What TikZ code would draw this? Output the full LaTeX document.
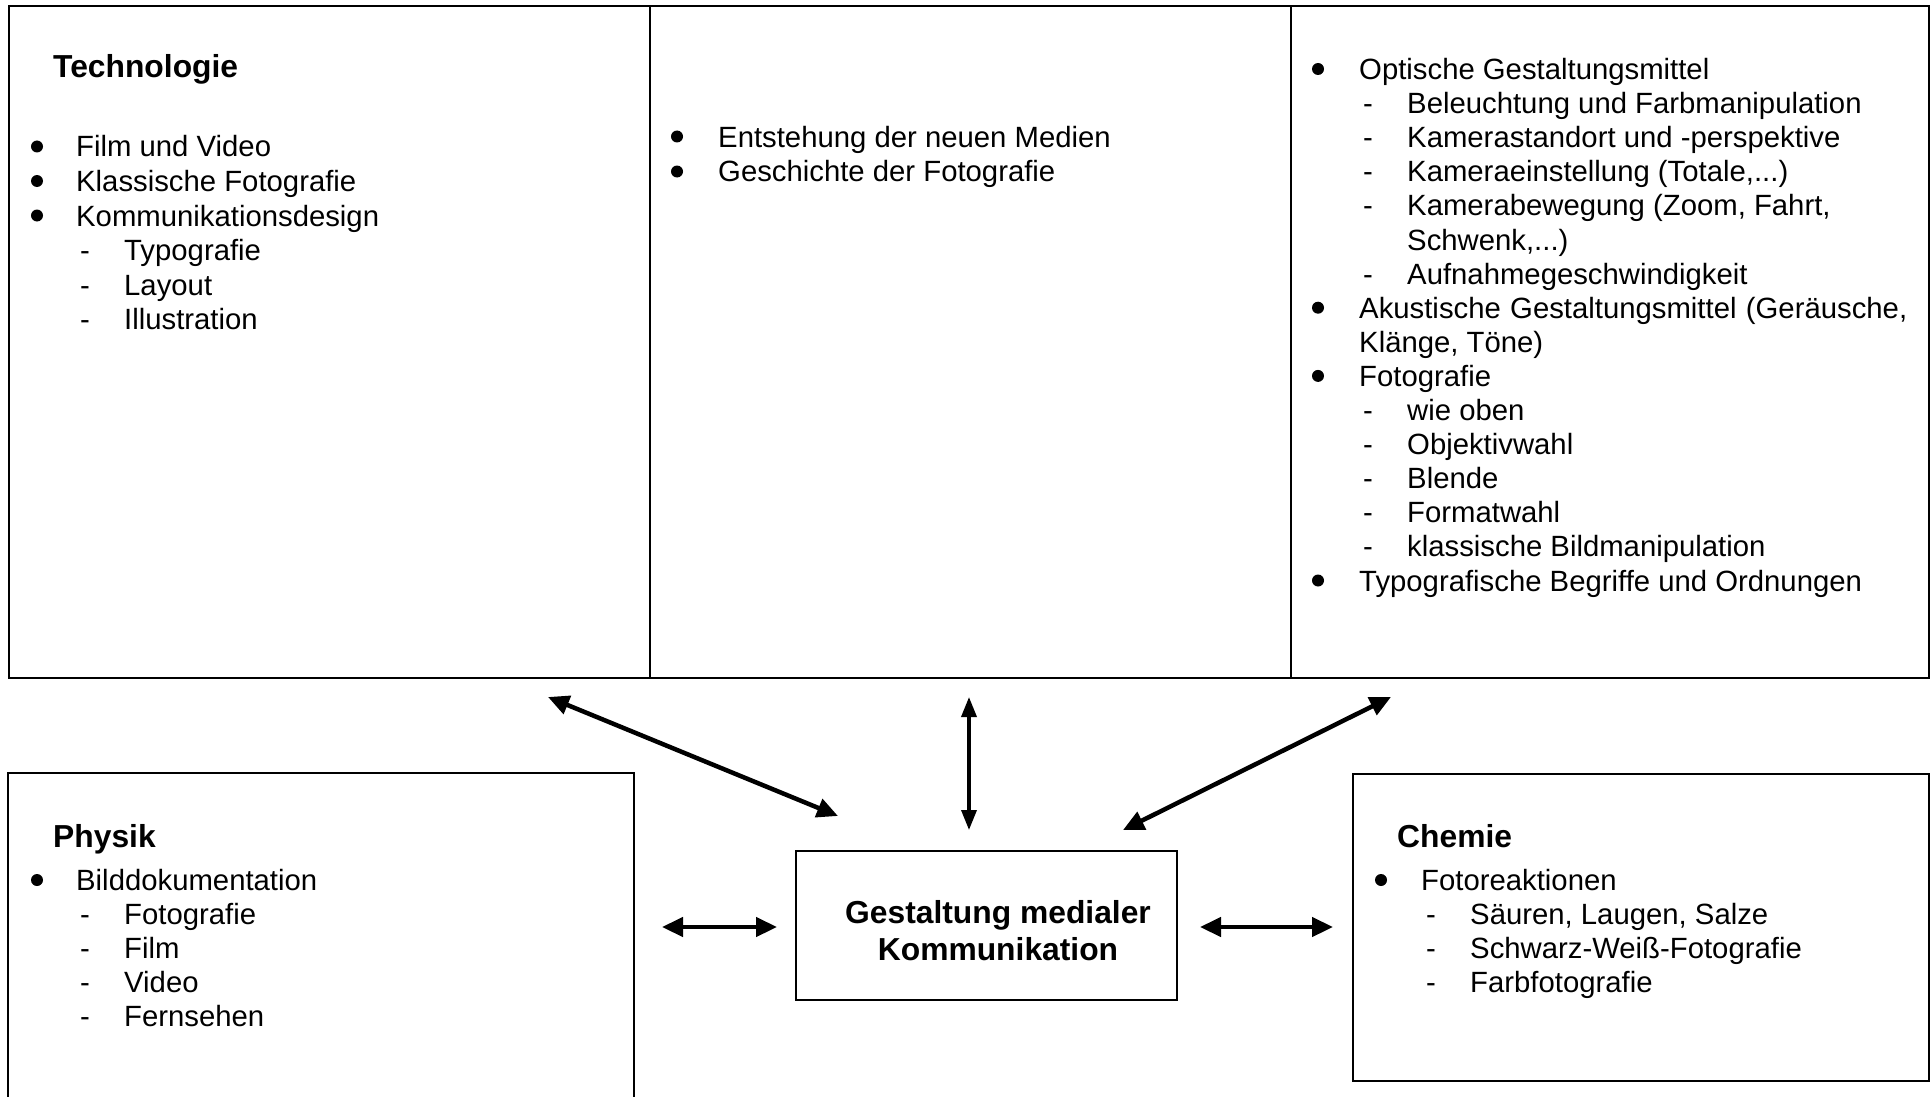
\documentclass[tikz,border=0pt]{standalone}
\usepackage{fontspec}
\setmainfont{Liberation Sans}
\usetikzlibrary{arrows.meta}
\tikzset{
  txt/.style={anchor=base west, inner sep=0pt, font=\fontsize{29.3}{34}\selectfont},
  ttl/.style={anchor=base west, inner sep=0pt, font=\bfseries\fontsize{31.8}{38}\selectfont},
  bul/.style={circle, fill=black, inner sep=0pt, minimum size=12pt, yshift=10.5pt},
  frame/.style={draw, line width=2pt},
  arr/.style={line width=4.5pt, {Triangle[length=21pt,width=19pt]}-{Triangle[length=21pt,width=19pt]}},
  varr/.style={line width=3.5pt, {Triangle[length=20pt,width=15pt]}-{Triangle[length=20pt,width=15pt]}}
}
\begin{document}
\begin{tikzpicture}[x=1pt,y=-1pt]
\useasboundingbox (0,0) rectangle (1930,1097);
% top table
\node[frame, anchor=north west, minimum width=641pt, minimum height=672pt, inner sep=0pt] (tech) at (8,5) {};
\node[frame, anchor=north west, minimum width=641pt, minimum height=672pt, inner sep=0pt] (hist) at (649,5) {};
\node[frame, anchor=north west, minimum width=638pt, minimum height=672pt, inner sep=0pt] (gest) at (1290,5) {};
% bottom boxes
\coordinate (phA) at (8,1100);
\coordinate (phB) at (8,773);
\coordinate (phC) at (634,773);
\coordinate (phD) at (634,1100);
\draw[line width=2pt] (phA) -- (phB) -- (phC) -- (phD);
\node[frame, anchor=north west, minimum width=576pt, minimum height=307pt, inner sep=0pt] (chem) at (1352,773) {};
\node[frame, anchor=north west, minimum width=381pt, minimum height=149pt, inner sep=0pt] (center) at (795,850) {};

% Technologie
\node[ttl] (t0) at (53,78) {Technologie};
\node[bul] (tb1) at (37,157) {};
\node[txt] (t1) at (76,157) {Film und Video};
\node[bul] (tb2) at (37,191.5) {};
\node[txt] (t2) at (76,191.5) {Klassische Fotografie};
\node[bul] (tb3) at (37,226) {};
\node[txt] (t3) at (76,226) {Kommunikationsdesign};
\node[txt] (td4) at (80,260.5) {-};
\node[txt] (t4) at (124,260.5) {Typografie};
\node[txt] (td5) at (80,295) {-};
\node[txt] (t5) at (124,295) {Layout};
\node[txt] (td6) at (80,329) {-};
\node[txt] (t6) at (124,329) {Illustration};

% middle column
\node[bul] (hb1) at (677,147) {};
\node[txt] (h1) at (718,147) {Entstehung der neuen Medien};
\node[bul] (hb2) at (677,182) {};
\node[txt] (h2) at (718,182) {Geschichte der Fotografie};

% right column
\node[bul] (gb1) at (1318,79.5) {};
\node[txt] (g1) at (1359,79.5) {Optische Gestaltungsmittel};
\node[txt] (gd2) at (1363,113.6) {-};
\node[txt] (g2) at (1407,113.6) {Beleuchtung und Farbmanipulation};
\node[txt] (gd3) at (1363,147.7) {-};
\node[txt] (g3) at (1407,147.7) {Kamerastandort und -perspektive};
\node[txt] (gd4) at (1363,181.8) {-};
\node[txt] (g4) at (1407,181.8) {Kameraeinstellung (Totale,...)};
\node[txt] (gd5) at (1363,215.9) {-};
\node[txt] (g5) at (1407,215.9) {Kamerabewegung (Zoom, Fahrt,};
\node[txt] (g6) at (1407,250) {Schwenk,...)};
\node[txt] (gd7) at (1363,284.1) {-};
\node[txt] (g7) at (1407,284.1) {Aufnahmegeschwindigkeit};
\node[bul] (gb8) at (1318,318.2) {};
\node[txt] (g8) at (1359,318.2) {\makebox[548pt][s]{Akustische Gestaltungsmittel (Geräusche,}};
\node[txt] (g9) at (1359,352.3) {Klänge, Töne)};
\node[bul] (gb10) at (1318,386.4) {};
\node[txt] (g10) at (1359,386.4) {Fotografie};
\node[txt] (gd11) at (1363,420.5) {-};
\node[txt] (g11) at (1407,420.5) {wie oben};
\node[txt] (gd12) at (1363,454.6) {-};
\node[txt] (g12) at (1407,454.6) {Objektivwahl};
\node[txt] (gd13) at (1363,488.7) {-};
\node[txt] (g13) at (1407,488.7) {Blende};
\node[txt] (gd14) at (1363,522.8) {-};
\node[txt] (g14) at (1407,522.8) {Formatwahl};
\node[txt] (gd15) at (1363,556.9) {-};
\node[txt] (g15) at (1407,556.9) {klassische Bildmanipulation};
\node[bul] (gb16) at (1318,591) {};
\node[txt] (g16) at (1359,591) {Typografische Begriffe und Ordnungen};

% Physik
\node[ttl] (p0) at (53,847) {Physik};
\node[bul] (pb1) at (37,890.5) {};
\node[txt] (p1) at (76,890.5) {Bilddokumentation};
\node[txt] (pd2) at (80,924.5) {-};
\node[txt] (p2) at (124,924.5) {Fotografie};
\node[txt] (pd3) at (80,958.5) {-};
\node[txt] (p3) at (124,958.5) {Film};
\node[txt] (pd4) at (80,992.5) {-};
\node[txt] (p4) at (124,992.5) {Video};
\node[txt] (pd5) at (80,1026.5) {-};
\node[txt] (p5) at (124,1026.5) {Fernsehen};

% Chemie
\node[ttl] (c0) at (1397,847) {Chemie};
\node[bul] (cb1) at (1381,890.5) {};
\node[txt] (c1) at (1421,890.5) {Fotoreaktionen};
\node[txt] (cd2) at (1426,924.5) {-};
\node[txt] (c2) at (1470,924.5) {Säuren, Laugen, Salze};
\node[txt] (cd3) at (1426,958.5) {-};
\node[txt] (c3) at (1470,958.5) {Schwarz-Weiß-Fotografie};
\node[txt] (cd4) at (1426,992.5) {-};
\node[txt] (c4) at (1470,992.5) {Farbfotografie};

% center text
\node[anchor=base, inner sep=0pt, font=\bfseries\fontsize{31.8}{38}\selectfont] (k1) at (998,923.5) {Gestaltung medialer};
\node[anchor=base, inner sep=0pt, font=\bfseries\fontsize{31.8}{38}\selectfont] (k2) at (998,960.5) {Kommunikation};

% arrow end points
\coordinate (a1s) at (548,697);
\coordinate (a1e) at (838,816);
\coordinate (a2s) at (969,697);
\coordinate (a2e) at (969,830);
\coordinate (a3s) at (1391,697);
\coordinate (a3e) at (1123,830);
\coordinate (a4s) at (662,927);
\coordinate (a4e) at (777,927);
\coordinate (a5s) at (1200,927);
\coordinate (a5e) at (1333,927);
\draw[arr] (a1s) -- (a1e);
\draw[varr] (a2s) -- (a2e);
\draw[arr] (a3s) -- (a3e);
\draw[arr] (a4s) -- (a4e);
\draw[arr] (a5s) -- (a5e);
\end{tikzpicture}
\end{document}
